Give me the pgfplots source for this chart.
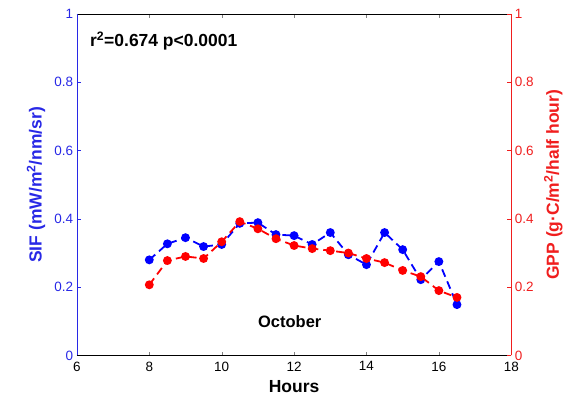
\documentclass[border=0pt]{standalone}
\usepackage{pgfplots}
\pgfplotsset{compat=1.18}
\usepackage{fontspec}
\setmainfont{Liberation Sans}
\definecolor{axblue}{RGB}{40,40,230}
\definecolor{axred}{RGB}{240,30,30}
\begin{document}
\begin{tikzpicture}
\pgfplotsset{
  every tick label/.append style={font=\fontsize{13.5}{15}\selectfont, inner sep=1pt},
  /pgf/number format/assume math mode=true,
}
\begin{axis}[name=ax1,
  scale only axis, width=435pt, height=342pt,
  xmin=6, xmax=18, ymin=0, ymax=1,
  xtick={6,8,...,18}, ytick={0,0.2,...,1},
  yticklabels={0,0.2,0.4,0.6,0.8,1},
  axis x line=box, axis y line*=left,
  y axis line style={axblue}, x axis line style={black},
  yticklabel style={axblue, xshift=-2.5pt}, ytick style={axblue},
  xticklabel style={yshift=-5pt},
  tick align=inside, major tick length=4pt,
  xlabel={\bfseries Hours},
  every axis x label/.style={at={(axis description cs:0.5,-0.091)}, anchor=center, font=\fontsize{17.5}{19}\selectfont},
  ylabel={\bfseries SIF (mW/m\textsuperscript{2}/nm/sr)},
  every axis y label/.style={at={(axis description cs:-0.094,0.5)}, rotate=90, anchor=center, font=\fontsize{17.5}{19}\selectfont, axblue},
  clip=false,
]
\addplot[blue, dash pattern=on 8pt off 5pt, line width=1.8pt, mark=*, mark size=3.5pt, mark options={solid}] coordinates {
(8,0.280) (8.5,0.327) (9,0.345) (9.5,0.319) (10,0.325) (10.5,0.387) (11,0.389)
(11.5,0.354) (12,0.351) (12.5,0.325) (13,0.360) (13.5,0.295) (14,0.266)
(14.5,0.360) (15,0.310) (15.5,0.222) (16,0.275) (16.5,0.149)};
\node[anchor=west, font=\fontsize{17.5}{19}\selectfont\bfseries, inner sep=0pt] at (axis cs:6.36,0.921) {r\textsuperscript{2}=0.674 p<0.0001};
\node[font=\fontsize{16.5}{18}\selectfont\bfseries] at (axis cs:11.88,0.10) {October};
\end{axis}
\begin{axis}[
  scale only axis, width=435pt, height=342pt,
  xmin=6, xmax=18, ymin=0, ymax=1,
  ytick={0,0.2,...,1},
  yticklabels={0,0.2,0.4,0.6,0.8,1},
  axis x line=none, axis y line*=right,
  y axis line style={axred},
  yticklabel style={axred, xshift=2.5pt}, ytick style={axred},
  tick align=inside, major tick length=4pt,
  ylabel={\bfseries GPP (g·C/m\textsuperscript{2}/half hour)},
  every axis y label/.style={at={(axis description cs:1.097,0.5)}, rotate=90, anchor=center, font=\fontsize{17.5}{19}\selectfont, axred},
  clip=false,
]
\addplot[red, dash pattern=on 8pt off 5pt, line width=1.8pt, mark=*, mark size=3.5pt, mark options={solid}] coordinates {
(8,0.207) (8.5,0.278) (9,0.290) (9.5,0.284) (10,0.333) (10.5,0.392) (11,0.371)
(11.5,0.342) (12,0.322) (12.5,0.313) (13,0.307) (13.5,0.300) (14,0.284)
(14.5,0.272) (15,0.249) (15.5,0.231) (16,0.190) (16.5,0.170)};
\end{axis}
\path ([xshift=-77pt,yshift=-42pt]ax1.south west) rectangle ([xshift=54pt,yshift=14pt]ax1.north east);
\end{tikzpicture}
\end{document}
